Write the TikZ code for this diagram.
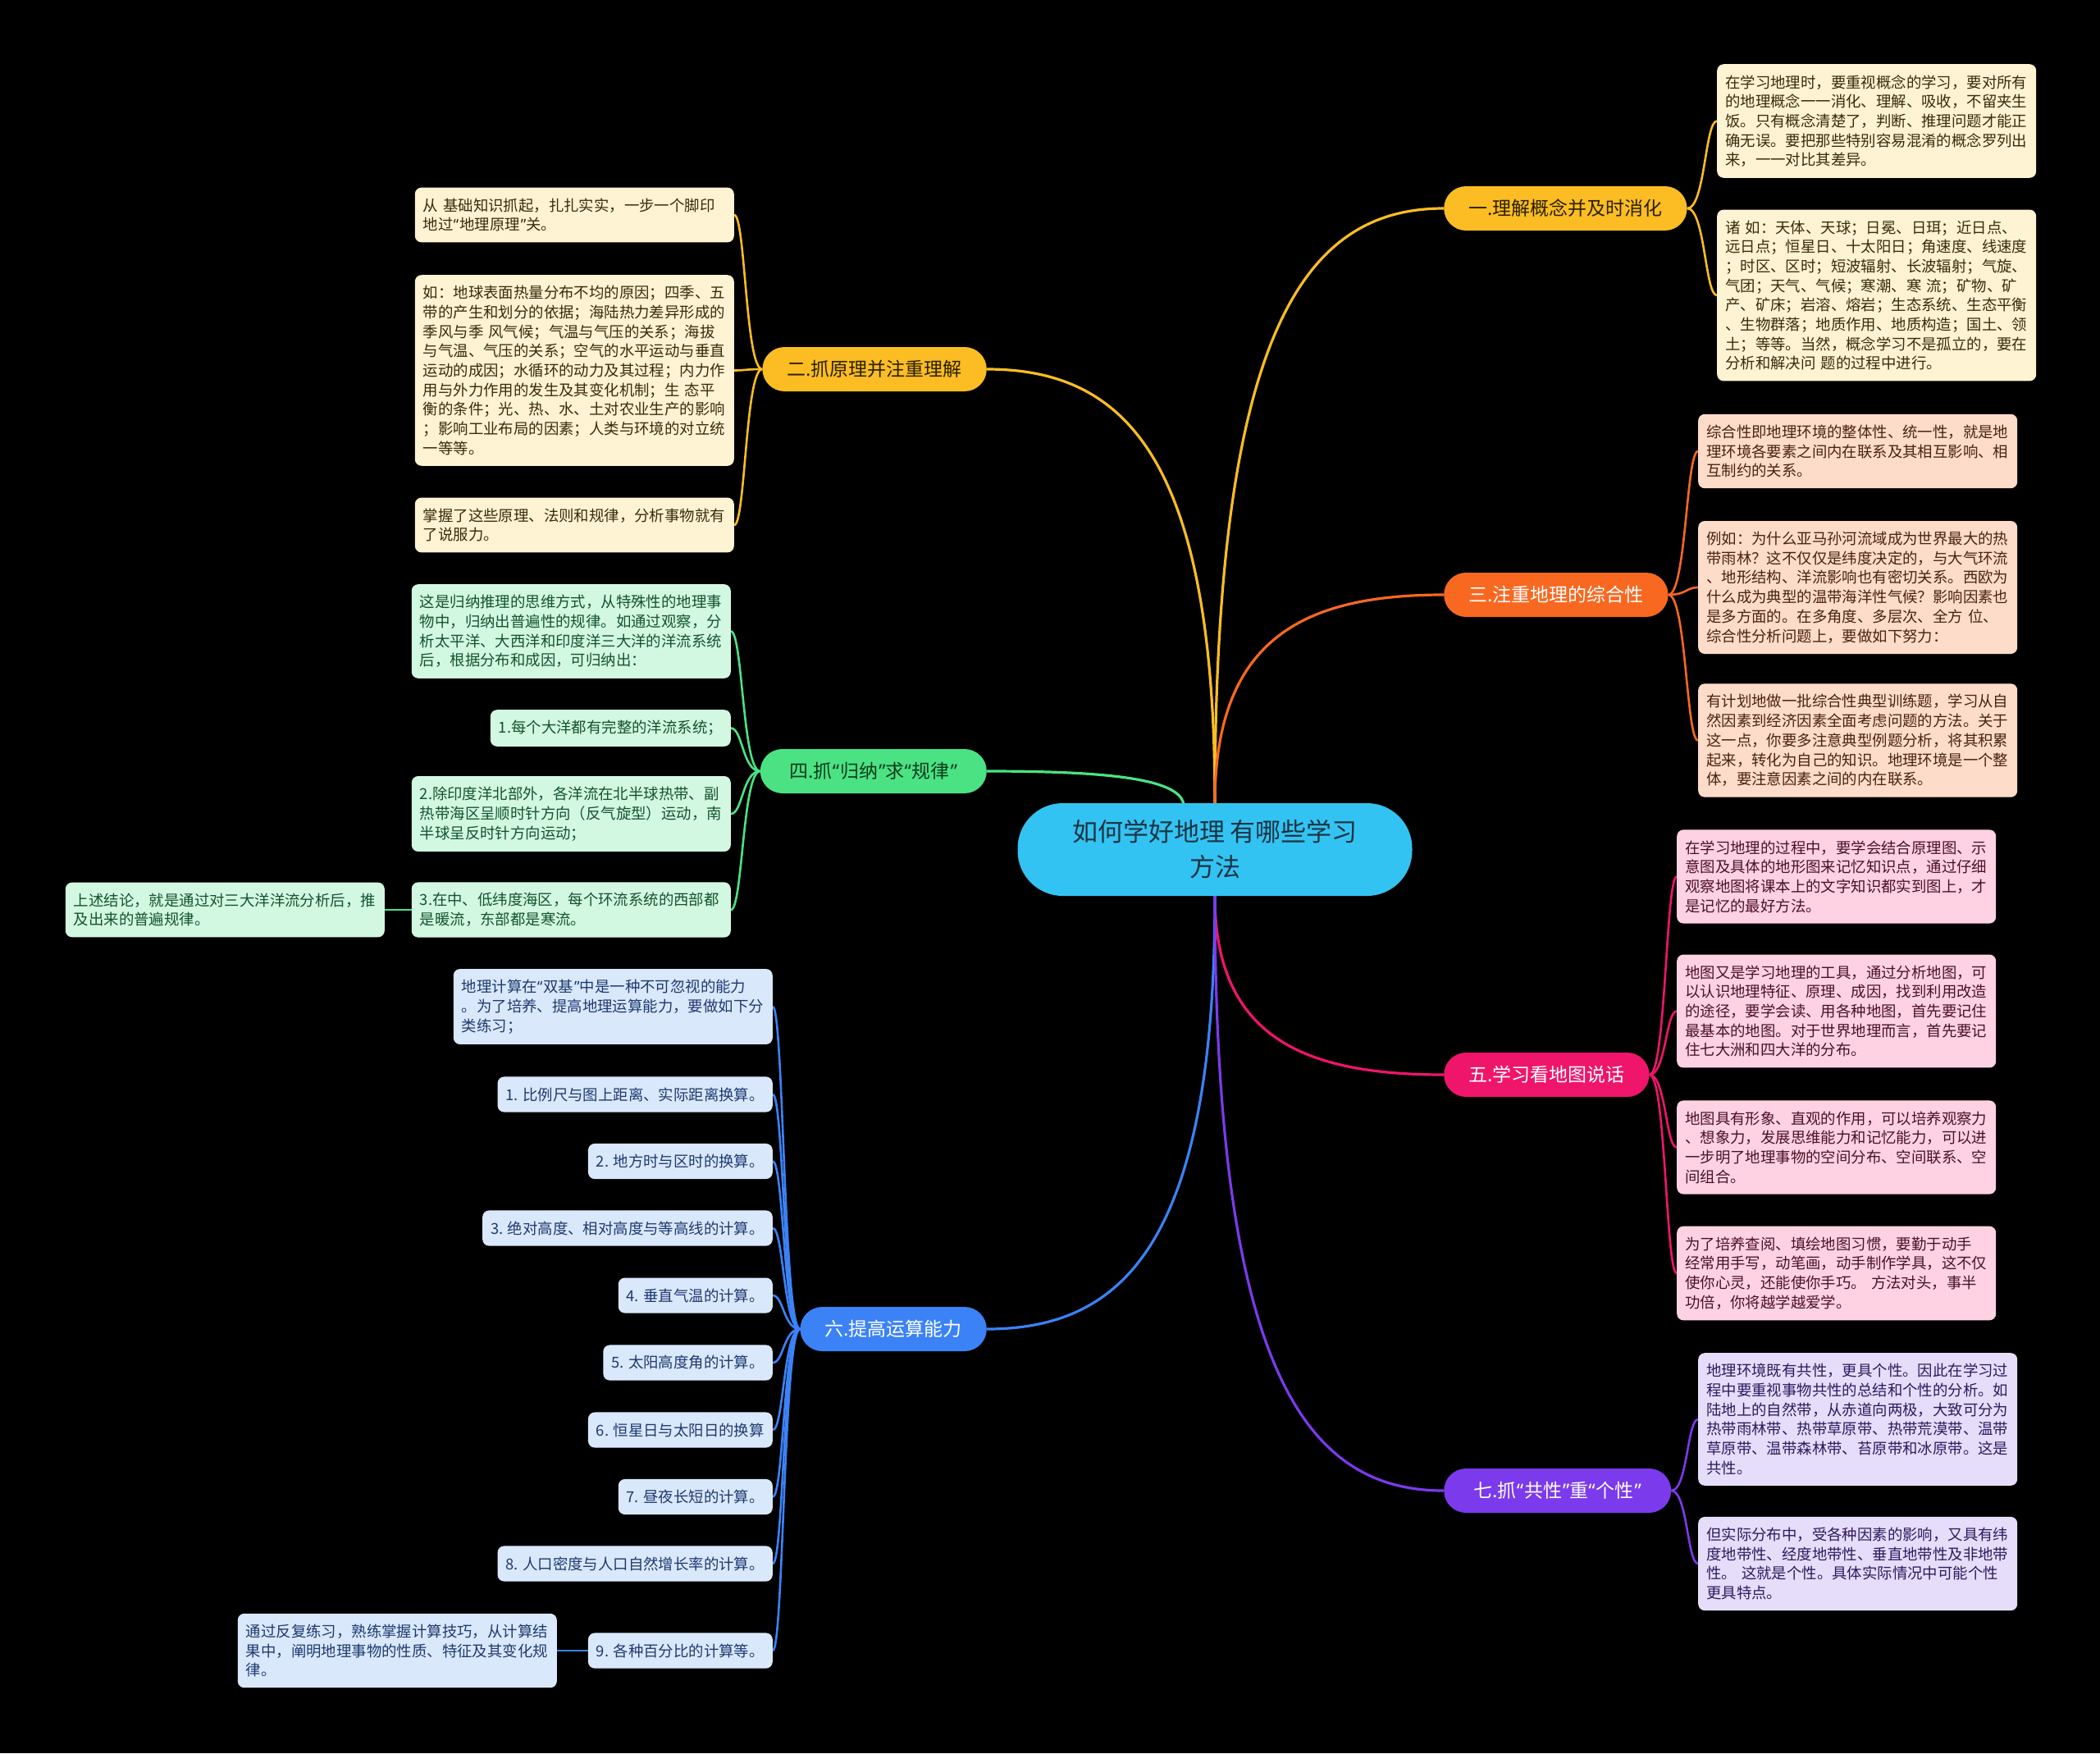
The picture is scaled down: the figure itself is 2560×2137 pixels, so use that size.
\documentclass[tikz,border=0pt]{standalone}
\usepackage{fontspec}
\setmainfont{Noto Sans CJK SC}
\newfontfamily\qfont{Noto Sans}
\newcommand{\myqo}{{\qfont “\kern1pt}}
\newcommand{\myqc}{{\qfont \kern1pt”}}
\usetikzlibrary{calc}
\pgfdeclarelayer{bg}
\pgfsetlayers{bg,main}
\definecolor{rootc}{HTML}{33C3F2}
\definecolor{roottext}{HTML}{1B3442}
\definecolor{cy}{HTML}{FBBD23}
\definecolor{co}{HTML}{F86820}
\definecolor{cg}{HTML}{4BE283}
\definecolor{cp}{HTML}{EF156B}
\definecolor{cb}{HTML}{3B82F6}
\definecolor{cv}{HTML}{7B3AEC}
\definecolor{fy}{HTML}{FEF3D3}
\definecolor{fo}{HTML}{FDDCC9}
\definecolor{fg}{HTML}{D3F8E2}
\definecolor{fp}{HTML}{FFD2E3}
\definecolor{fb}{HTML}{DAE8FC}
\definecolor{fv}{HTML}{E6DDFB}
\definecolor{ty}{HTML}{3A2C0A}
\definecolor{to}{HTML}{4A2210}
\definecolor{tg}{HTML}{14532D}
\definecolor{tp}{HTML}{4A1028}
\definecolor{tb}{HTML}{1E3A6E}
\definecolor{tv}{HTML}{2E1A5E}
\definecolor{bdark}{HTML}{2A2000}
\definecolor{gdark}{HTML}{0B3B1C}
\tikzset{
  rootnode/.style={fill=rootc, text=roottext, rounded corners=55pt, minimum width=481pt, minimum height=113pt, align=center, font=\fontsize{31}{43}\selectfont},
  branch/.style={rounded corners=27pt, minimum height=54pt, inner xsep=30pt, font=\fontsize{23}{28}\selectfont},
  leaf/.style={rounded corners=8pt, inner xsep=10pt, inner ysep=13pt, align=left, font=\fontsize{18.4}{23.7}\selectfont},
  wide/.style={text width=369pt},
  yleaf/.style={leaf, fill=fy, text=ty},
  oleaf/.style={leaf, fill=fo, text=to},
  gleaf/.style={leaf, fill=fg, text=tg},
  pleaf/.style={leaf, fill=fp, text=tp},
  bleaf/.style={leaf, fill=fb, text=tb},
  vleaf/.style={leaf, fill=fv, text=tv},
  mainedge/.style={line width=3.2pt},
  leafedge/.style={line width=2.6pt},
  rootcurve/.style={to path={.. controls ($(\tikztostart)!0.8!(\tikztostart |- \tikztotarget)$) and ($(\tikztotarget)!0.6!(\tikztostart |- \tikztotarget)$) .. (\tikztotarget)}},
  lcurve/.style={to path={.. controls ($(\tikztostart)!0.6!(\tikztostart -| \tikztotarget)$) and ($(\tikztotarget)!0.4!(\tikztostart |- \tikztotarget)$) .. (\tikztotarget)}}
}
\begin{document}
\begin{tikzpicture}[x=1pt,y=-1pt]
\useasboundingbox (0,0) rectangle (2560,2137);

% root
\node[rootnode] (root) at (1481,1035.5) {如何学好地理 有哪些学习\\方法};
\coordinate (r4) at ($(root.north)+(-38,4)$);

% branches
\node[branch, fill=cy, text=bdark, anchor=west] (b1) at (1760,254) {一.理解概念并及时消化};
\node[branch, fill=cy, text=bdark, anchor=east] (b2) at (1203,450) {二.抓原理并注重理解};
\node[branch, fill=co, text=white, anchor=west] (b3) at (1760,725) {三.注重地理的综合性};
\node[branch, fill=cg, text=gdark, anchor=east, minimum width=276pt] (b4) at (1203,940) {四.抓\myqo 归纳\myqc 求\myqo 规律\myqc};
\node[branch, fill=cp, text=white, anchor=west] (b5) at (1760,1310) {五.学习看地图说话};
\node[branch, fill=cb, text=white, anchor=east] (b6) at (1203,1620) {六.提高运算能力};
\node[branch, fill=cv, text=white, anchor=west, minimum width=277pt] (b7) at (1760,1817) {七.抓\myqo 共性\myqc 重\myqo 个性\myqc};

% leaves of 一
\node[yleaf, wide, anchor=west] (l1a) at (2093,147.5) {在学习地理时，要重视概念的学习，要对所有\\的地理概念一一消化、理解、吸收，不留夹生\\饭。只有概念清楚了，判断、推理问题才能正\\确无误。要把那些特别容易混淆的概念罗列出\\来，一一对比其差异。};
\node[yleaf, wide, anchor=west] (l1b) at (2093,360) {诸 如：天体、天球；日冕、日珥；近日点、\\远日点；恒星日、十太阳日；角速度、线速度\\；时区、区时；短波辐射、长波辐射；气旋、\\气团；天气、气候；寒潮、寒 流；矿物、矿\\产、矿床；岩溶、熔岩；生态系统、生态平衡\\、生物群落；地质作用、地质构造；国土、领\\土；等等。当然，概念学习不是孤立的，要在\\分析和解决问 题的过程中进行。};

% leaves of 二
\node[yleaf, wide, anchor=east] (l2a) at (895,262) {从 基础知识抓起，扎扎实实，一步一个脚印\\地过\myqo 地理原理\myqc 关。};
\node[yleaf, wide, anchor=east] (l2b) at (895,451.5) {如：地球表面热量分布不均的原因；四季、五\\带的产生和划分的依据；海陆热力差异形成的\\季风与季 风气候；气温与气压的关系；海拔\\与气温、气压的关系；空气的水平运动与垂直\\运动的成因；水循环的动力及其过程；内力作\\用与外力作用的发生及其变化机制；生 态平\\衡的条件；光、热、水、土对农业生产的影响\\；影响工业布局的因素；人类与环境的对立统\\一等等。};
\node[yleaf, wide, anchor=east] (l2c) at (895,640) {掌握了这些原理、法则和规律，分析事物就有\\了说服力。};

% leaves of 三
\node[oleaf, wide, anchor=west] (l3a) at (2070,550) {综合性即地理环境的整体性、统一性，就是地\\理环境各要素之间内在联系及其相互影响、相\\互制约的关系。};
\node[oleaf, wide, anchor=west] (l3b) at (2070,716) {例如：为什么亚马孙河流域成为世界最大的热\\带雨林？这不仅仅是纬度决定的，与大气环流\\、地形结构、洋流影响也有密切关系。西欧为\\什么成为典型的温带海洋性气候？影响因素也\\是多方面的。在多角度、多层次、全方 位、\\综合性分析问题上，要做如下努力：};
\node[oleaf, wide, anchor=west] (l3c) at (2070,902.5) {有计划地做一批综合性典型训练题，学习从自\\然因素到经济因素全面考虑问题的方法。关于\\这一点，你要多注意典型例题分析，将其积累\\起来，转化为自己的知识。地理环境是一个整\\体，要注意因素之间的内在联系。};

% leaves of 四
\node[gleaf, wide, anchor=east] (l4a) at (891,769.5) {这是归纳推理的思维方式，从特殊性的地理事\\物中，归纳出普遍性的规律。如通过观察，分\\析太平洋、大西洋和印度洋三大洋的洋流系统\\后，根据分布和成因，可归纳出：};
\node[gleaf, anchor=east] (l4b) at (891,887.5) {1.每个大洋都有完整的洋流系统；};
\node[gleaf, wide, anchor=east] (l4c) at (891,992) {2.除印度洋北部外，各洋流在北半球热带、副\\热带海区呈顺时针方向（反气旋型）运动，南\\半球呈反时针方向运动；};
\node[gleaf, wide, anchor=east] (l4d) at (891,1109) {3.在中、低纬度海区，每个环流系统的西部都\\是暖流，东部都是寒流。};
\node[gleaf, wide, anchor=east] (l4e) at (469,1109) {上述结论，就是通过对三大洋洋流分析后，推\\及出来的普遍规律。};

% leaves of 五
\node[pleaf, wide, anchor=west] (l5a) at (2044,1068.5) {在学习地理的过程中，要学会结合原理图、示\\意图及具体的地形图来记忆知识点，通过仔细\\观察地图将课本上的文字知识都实到图上，才\\是记忆的最好方法。};
\node[pleaf, wide, anchor=west] (l5b) at (2044,1232.5) {地图又是学习地理的工具，通过分析地图，可\\以认识地理特征、原理、成因，找到利用改造\\的途径，要学会读、用各种地图，首先要记住\\最基本的地图。对于世界地理而言，首先要记\\住七大洲和四大洋的分布。};
\node[pleaf, wide, anchor=west] (l5c) at (2044,1398.5) {地图具有形象、直观的作用，可以培养观察力\\、想象力，发展思维能力和记忆能力，可以进\\一步明了地理事物的空间分布、空间联系、空\\间组合。};
\node[pleaf, wide, anchor=west] (l5d) at (2044,1552) {为了培养查阅、填绘地图习惯，要勤于动手\\经常用手写，动笔画，动手制作学具，这不仅\\使你心灵，还能使你手巧。 方法对头，事半\\功倍，你将越学越爱学。};

% leaves of 六
\node[bleaf, wide, anchor=east] (l6a) at (942,1227) {地理计算在\myqo 双基\myqc 中是一种不可忽视的能力\\。为了培养、提高地理运算能力，要做如下分\\类练习；};
\node[bleaf, anchor=east] (l6b) at (942,1334) {1. 比例尺与图上距离、实际距离换算。};
\node[bleaf, anchor=east] (l6c) at (942,1415.5) {2. 地方时与区时的换算。};
\node[bleaf, anchor=east] (l6d) at (942,1497) {3. 绝对高度、相对高度与等高线的计算。};
\node[bleaf, anchor=east] (l6e) at (942,1579) {4. 垂直气温的计算。};
\node[bleaf, anchor=east] (l6f) at (942,1661) {5. 太阳高度角的计算。};
\node[bleaf, anchor=east] (l6g) at (942,1743) {6. 恒星日与太阳日的换算};
\node[bleaf, anchor=east] (l6h) at (942,1824.5) {7. 昼夜长短的计算。};
\node[bleaf, anchor=east] (l6i) at (942,1906) {8. 人口密度与人口自然增长率的计算。};
\node[bleaf, anchor=east] (l6j) at (942,2012) {9. 各种百分比的计算等。};
\node[bleaf, wide, anchor=east] (l6k) at (679,2012) {通过反复练习，熟练掌握计算技巧，从计算结\\果中，阐明地理事物的性质、特征及其变化规\\律。};

% leaves of 七
\node[vleaf, wide, anchor=west] (l7a) at (2070,1730) {地理环境既有共性，更具个性。因此在学习过\\程中要重视事物共性的总结和个性的分析。如\\陆地上的自然带，从赤道向两极，大致可分为\\热带雨林带、热带草原带、热带荒漠带、温带\\草原带、温带森林带、苔原带和冰原带。这是\\共性。};
\node[vleaf, wide, anchor=west] (l7b) at (2070,1906) {但实际分布中，受各种因素的影响，又具有纬\\度地带性、经度地带性、垂直地带性及非地带\\性。 这就是个性。具体实际情况中可能个性\\更具特点。};

\begin{pgfonlayer}{bg}
\fill[black] (0,0) rectangle (2560,2137);
% main edges
\draw[mainedge, cy] (root.north) to[rootcurve] (b1.west);
\draw[mainedge, cy] (root.north) to[rootcurve] (b2.east);
\draw[mainedge, co] (root.north) to[rootcurve] (b3.west);
\draw[mainedge, cg] (r4) to[rootcurve] (b4.east);
\draw[mainedge, cp] (root.south) to[rootcurve] (b5.west);
\draw[mainedge, cb] (root.south) to[rootcurve] (b6.east);
\draw[mainedge, cv] (root.south) to[rootcurve] (b7.west);
% leaf edges
\foreach \l in {l1a,l1b} \draw[leafedge, cy] (b1.east) to[lcurve] (\l.west);
\foreach \l in {l2a,l2b,l2c} \draw[leafedge, cy] (b2.west) to[lcurve] (\l.east);
\foreach \l in {l3a,l3b,l3c} \draw[leafedge, co] (b3.east) to[lcurve] (\l.west);
\foreach \l in {l4a,l4b,l4c,l4d} \draw[leafedge, cg] (b4.west) to[lcurve] (\l.east);
\draw[leafedge, cg] (l4d.west) -- (l4e.east);
\foreach \l in {l5a,l5b,l5c,l5d} \draw[leafedge, cp] (b5.east) to[lcurve] (\l.west);
\foreach \l in {l6a,l6b,l6c,l6d,l6e,l6f,l6g,l6h,l6i,l6j} \draw[leafedge, cb] (b6.west) to[lcurve] (\l.east);
\draw[leafedge, cb] (l6j.west) -- (l6k.east);
\foreach \l in {l7a,l7b} \draw[leafedge, cv] (b7.east) to[lcurve] (\l.west);
\end{pgfonlayer}
\end{tikzpicture}
\end{document}
